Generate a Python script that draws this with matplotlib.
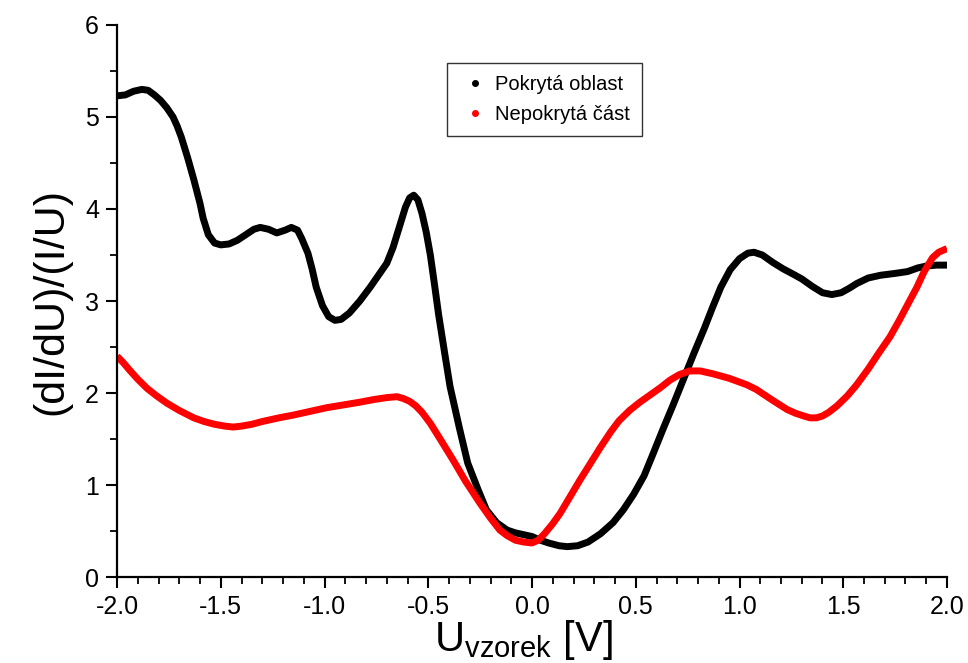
import matplotlib
matplotlib.use("Agg")
import matplotlib.pyplot as plt
from matplotlib.lines import Line2D
from matplotlib.ticker import MultipleLocator, FormatStrFormatter

# covered region (black)
u_covered = [-2.0, -1.96, -1.92, -1.88, -1.85, -1.82, -1.79, -1.76, -1.73, -1.71,
             -1.69, -1.66, -1.63, -1.60, -1.585, -1.56, -1.53, -1.50, -1.46, -1.42,
             -1.38, -1.34, -1.31, -1.27, -1.23, -1.19, -1.16, -1.13, -1.11, -1.08,
             -1.06, -1.04, -1.01, -0.98, -0.95, -0.92, -0.88, -0.83, -0.78, -0.74,
             -0.70, -0.67, -0.64, -0.61, -0.59, -0.57, -0.55, -0.53, -0.51, -0.49,
             -0.47, -0.45, -0.42, -0.395, -0.35, -0.31, -0.26, -0.22, -0.17, -0.12,
             -0.08, -0.04, 0.00, 0.04, 0.08, 0.13, 0.17, 0.22, 0.27, 0.33,
             0.39, 0.44, 0.49, 0.54, 0.58, 0.63, 0.68, 0.73, 0.78, 0.83,
             0.87, 0.91, 0.955, 1.00, 1.04, 1.07, 1.11, 1.16, 1.21, 1.26,
             1.30, 1.35, 1.40, 1.445, 1.49, 1.53, 1.565, 1.62, 1.68, 1.75,
             1.81, 1.86, 1.90, 1.95, 2.0]
g_covered = [5.23, 5.24, 5.28, 5.30, 5.29, 5.24, 5.18, 5.10, 5.00, 4.90,
             4.78, 4.56, 4.32, 4.06, 3.90, 3.72, 3.63, 3.61, 3.62, 3.66,
             3.72, 3.78, 3.80, 3.78, 3.74, 3.77, 3.80, 3.77, 3.68, 3.52,
             3.35, 3.15, 2.95, 2.83, 2.79, 2.80, 2.87, 3.00, 3.15, 3.28,
             3.41, 3.58, 3.80, 4.02, 4.12, 4.15, 4.10, 3.95, 3.75, 3.50,
             3.18, 2.85, 2.42, 2.07, 1.62, 1.24, 0.95, 0.73, 0.59, 0.51,
             0.48, 0.46, 0.44, 0.40, 0.37, 0.34, 0.33, 0.34, 0.38, 0.47,
             0.59, 0.73, 0.90, 1.10, 1.32, 1.60, 1.87, 2.15, 2.43, 2.70,
             2.93, 3.15, 3.34, 3.46, 3.52, 3.53, 3.50, 3.42, 3.35, 3.29,
             3.24, 3.16, 3.09, 3.07, 3.09, 3.14, 3.19, 3.25, 3.28, 3.30,
             3.32, 3.36, 3.38, 3.39, 3.39]

# uncovered part (red)
u_uncovered = [-2.0, -1.97, -1.94, -1.90, -1.855, -1.81, -1.76, -1.70, -1.63, -1.58,
               -1.53, -1.48, -1.44, -1.40, -1.35, -1.30, -1.22, -1.15, -1.07, -0.99,
               -0.91, -0.83, -0.76, -0.70, -0.65, -0.62, -0.59, -0.56, -0.53, -0.49,
               -0.44, -0.38, -0.32, -0.25, -0.20, -0.155, -0.12, -0.08, -0.04, 0.0,
               0.03, 0.06, 0.10, 0.135, 0.18, 0.23, 0.28, 0.33, 0.38, 0.42,
               0.47, 0.52, 0.57, 0.62, 0.665, 0.71, 0.76, 0.81, 0.87, 0.95,
               1.035, 1.08, 1.12, 1.16, 1.195, 1.23, 1.27, 1.31, 1.34, 1.37,
               1.40, 1.43, 1.47, 1.52, 1.565, 1.62, 1.67, 1.725, 1.77, 1.81,
               1.855, 1.89, 1.93, 1.96, 2.0]
g_uncovered = [2.40, 2.33, 2.25, 2.15, 2.05, 1.97, 1.89, 1.81, 1.73, 1.69,
               1.66, 1.64, 1.63, 1.64, 1.66, 1.69, 1.73, 1.76, 1.80, 1.84,
               1.87, 1.90, 1.93, 1.95, 1.96, 1.94, 1.91, 1.86, 1.79, 1.67,
               1.49, 1.27, 1.04, 0.80, 0.64, 0.51, 0.45, 0.40, 0.38, 0.37,
               0.40, 0.47, 0.58, 0.69, 0.86, 1.05, 1.23, 1.41, 1.58, 1.70,
               1.81, 1.90, 1.98, 2.06, 2.14, 2.20, 2.24, 2.24, 2.21, 2.16,
               2.09, 2.04, 1.98, 1.92, 1.87, 1.82, 1.78, 1.75, 1.73, 1.73,
               1.75, 1.79, 1.86, 1.97, 2.09, 2.26, 2.43, 2.61, 2.79, 2.96,
               3.15, 3.32, 3.47, 3.53, 3.57]

labels = ["Pokrytá oblast", "Nepokrytá část"]

plt.rcParams["font.family"] = ["Liberation Sans", "DejaVu Sans"]
plt.rcParams["mathtext.fontset"] = "custom"
plt.rcParams["mathtext.rm"] = "Liberation Sans"
plt.rcParams["mathtext.it"] = "Liberation Sans"

fig = plt.figure(figsize=(9.68, 6.63), dpi=100)
ax = fig.add_axes([0.1209, 0.1297, 0.8574, 0.8326])

ax.plot(u_covered, g_covered, color="black", lw=5, solid_capstyle="butt",
        solid_joinstyle="round")
ax.plot(u_uncovered, g_uncovered, color="red", lw=5, solid_capstyle="butt",
        solid_joinstyle="round")

ax.set_xlim(-2, 2)
ax.set_ylim(0, 6)
ax.xaxis.set_major_locator(MultipleLocator(0.5))
ax.xaxis.set_minor_locator(MultipleLocator(0.1))
ax.xaxis.set_major_formatter(FormatStrFormatter("%.1f"))
ax.yaxis.set_major_locator(MultipleLocator(1))
ax.yaxis.set_minor_locator(MultipleLocator(0.5))

for side in ("top", "right"):
    ax.spines[side].set_visible(False)
for side in ("left", "bottom"):
    ax.spines[side].set_linewidth(1.6)

ax.tick_params(which="major", direction="out", length=8, width=1.5,
               labelsize=18, pad=5)
ax.tick_params(which="minor", direction="out", length=5, width=1.3)

ax.set_ylabel("(dI/dU)/(I/U)", fontsize=31, labelpad=10)
ax.set_xlabel(r"U$_{\mathrm{vzorek}}$ [V]", fontsize=30, labelpad=0)
ax.xaxis.set_label_coords(0.49, -0.075, transform=ax.transAxes)
ax.xaxis.label.set_va("top")

handles = [Line2D([], [], color="black", marker="o", ls="none", markersize=4),
           Line2D([], [], color="red", marker="o", ls="none", markersize=4)]
leg = ax.legend(handles, labels, loc="upper left", bbox_to_anchor=(0.3976, 0.931),
                borderaxespad=0, fontsize=14.5, frameon=True, fancybox=False,
                handlelength=1.6, handletextpad=0.2, borderpad=0.6,
                labelspacing=0.55)
leg.get_frame().set_edgecolor("black")
leg.get_frame().set_linewidth(1.0)

fig.savefig("out.png", dpi=100)
